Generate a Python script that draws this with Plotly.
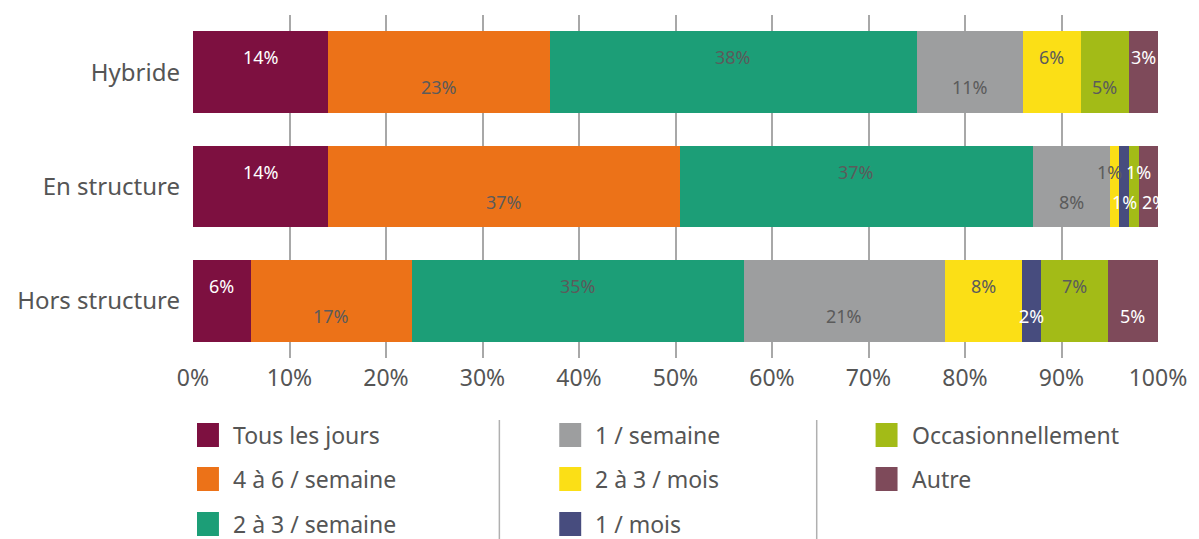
import plotly.graph_objects as go

categories = ["Hybride", "En structure", "Hors structure"]
series_names = ["Tous les jours", "4 à 6 / semaine", "2 à 3 / semaine", "1 / semaine",
                "2 à 3 / mois", "1 / mois", "Occasionnellement", "Autre"]
colors = ["#7D1040", "#EC7218", "#1C9E77", "#9D9E9F", "#FBDF16", "#474C7E", "#A3BB17", "#7E4A5A"]

# values per series, for [Hybride, En structure, Hors structure]
tous_les_jours   = [14, 14, 6]
quatre_six_sem   = [23, 36.5, 16.7]
deux_trois_sem   = [38, 36.5, 34.4]
une_semaine      = [11, 8, 20.8]
deux_trois_mois  = [6, 1, 8]
un_mois          = [0, 1, 2]
occasionnellement = [5, 1, 6.9]
autre            = [3, 2, 5.2]

# printed labels (rounded percentages as shown)
lbl_tous  = ["14%", "14%", "6%"]
lbl_46    = ["23%", "37%", "17%"]
lbl_23s   = ["38%", "37%", "35%"]
lbl_1s    = ["11%", "8%", "21%"]
lbl_23m   = ["6%", "1%", "8%"]
lbl_1m    = ["", "1%", "2%"]
lbl_occ   = ["5%", "1%", "7%"]
lbl_autre = ["3%", "2%", "5%"]

values = [tous_les_jours, quatre_six_sem, deux_trois_sem, une_semaine,
          deux_trois_mois, un_mois, occasionnellement, autre]
labels = [lbl_tous, lbl_46, lbl_23s, lbl_1s, lbl_23m, lbl_1m, lbl_occ, lbl_autre]

GREY_TXT = "#5b5b5b"
label_colors = ["white", GREY_TXT, GREY_TXT, GREY_TXT, GREY_TXT, "white", GREY_TXT, "white"]
white_exceptions = {("En structure", "Occasionnellement")}
# small nudges for crowded labels (pixels)
label_xshift = {("En structure", "2 à 3 / mois"): -5,
                ("En structure", "Occasionnellement"): 5,
                ("En structure", "Autre"): 6}

FONT = "Noto Sans"

fig = go.Figure()
for name, col, vals in zip(series_names, colors, values):
    fig.add_trace(go.Bar(
        y=categories, x=vals, name=name, orientation="h",
        marker=dict(color=col, line=dict(width=0)),
        showlegend=False, hoverinfo="x+name",
    ))

annotations = []
for ci, cat in enumerate(categories):
    cum = 0.0
    k = 0
    for si in range(len(series_names)):
        v = values[si][ci]
        if v <= 0:
            continue
        mid = cum + v / 2.0
        cum += v
        colr = label_colors[si]
        if (cat, series_names[si]) in white_exceptions:
            colr = "white"
        annotations.append(dict(
            x=mid, y=cat, xref="x", yref="y", text=labels[si][ci],
            showarrow=False, yshift=15 if k % 2 == 0 else -15,
            xshift=label_xshift.get((cat, series_names[si]), 0),
            font=dict(family=FONT, size=18, color=colr),
        ))
        k += 1

# custom legend (3 columns, column-major)
L, R, T, B = 193, 39, 15, 181
W, H = 1199, 539
pw, ph = W - L - R, H - T - B

def px2paper(px, py):
    return (px - L) / pw, (H - B - py) / ph

col_x = [197, 560, 877]
row_y = [435, 479, 524]
shapes = []
for i, (name, col) in enumerate(zip(series_names, colors)):
    c, r = i // 3, i % 3
    x0, y0 = px2paper(col_x[c], row_y[r] - 12)
    x1, y1 = px2paper(col_x[c] + 22, row_y[r] + 12)
    shapes.append(dict(type="rect", xref="paper", yref="paper", x0=x0, x1=x1, y0=y0, y1=y1,
                       fillcolor=col, line=dict(width=0)))
    tx, ty = px2paper(col_x[c] + 34, row_y[r])
    annotations.append(dict(x=tx, y=ty, xref="paper", yref="paper", text=name,
                            showarrow=False, xanchor="left", yanchor="middle",
                            font=dict(family=FONT, size=23, color="#555555")))

for sx in [500, 818]:
    x0, y0 = px2paper(sx, 420)
    _, y1 = px2paper(sx, 539)
    shapes.append(dict(type="line", xref="paper", yref="paper", x0=x0, x1=x0, y0=y0, y1=y1,
                       line=dict(color="#b0b0b0", width=1.5)))

fig.update_layout(
    barmode="stack",
    bargap=0.284,
    width=W, height=H,
    margin=dict(l=L, r=R, t=T, b=B),
    plot_bgcolor="white", paper_bgcolor="white",
    annotations=annotations, shapes=shapes,
    xaxis=dict(range=[0, 100], tickvals=[0, 10, 20, 30, 40, 50, 60, 70, 80, 90, 100],
               ticktext=[f"{v}%" for v in range(0, 101, 10)],
               showgrid=True, gridcolor="#a8a8a8", gridwidth=1.5, zeroline=False,
               ticks="", ticklabelstandoff=4,
               tickfont=dict(family=FONT, size=23, color="#555555"),
               showline=False, fixedrange=True),
    yaxis=dict(categoryorder="array", categoryarray=categories, autorange="reversed",
               ticks="", ticklabelstandoff=12, tickfont=dict(family=FONT, size=24, color="#555555"),
               showgrid=False, zeroline=False, showline=False),
)

fig.write_html("out.html")
